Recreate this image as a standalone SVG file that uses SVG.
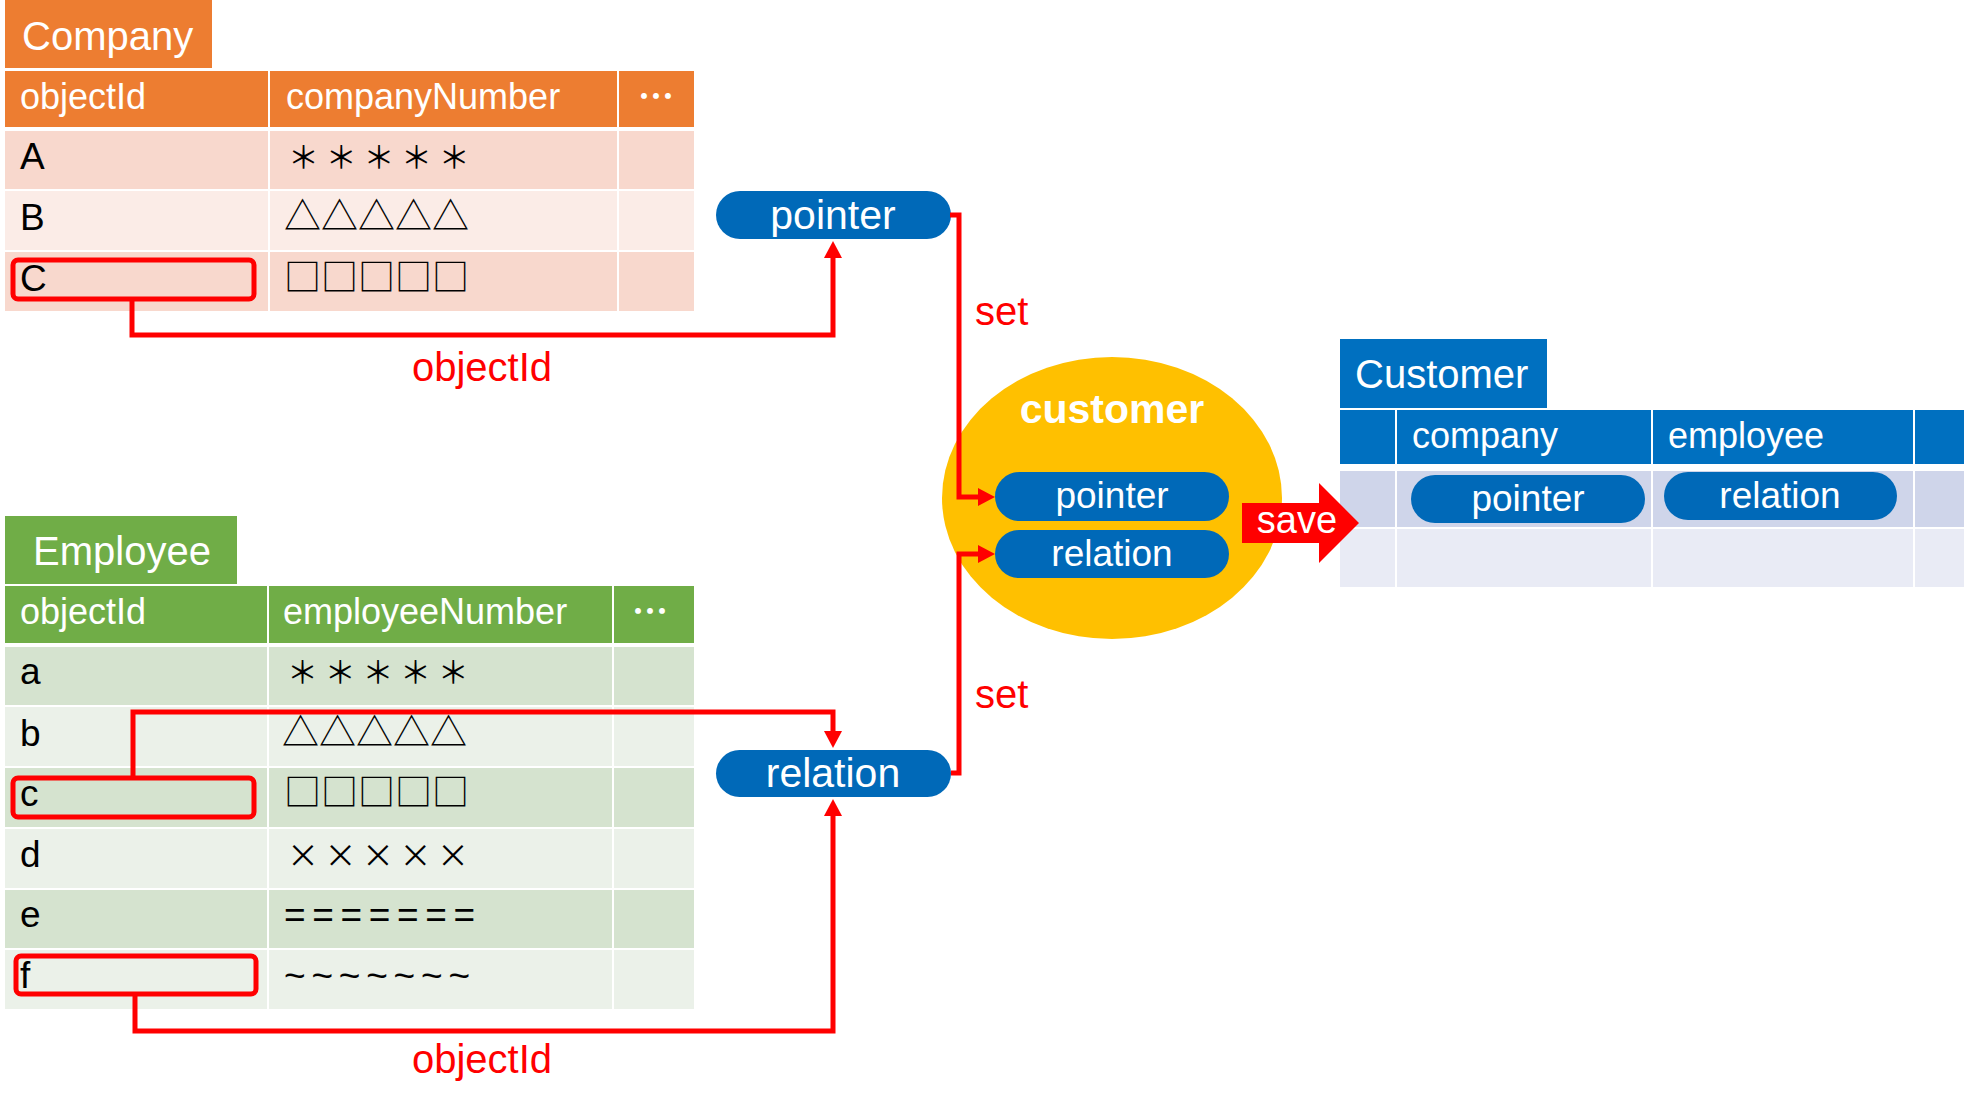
<svg xmlns="http://www.w3.org/2000/svg" width="1969" height="1104" viewBox="0 0 1969 1104">
<style>
text{font-family:"Liberation Sans","Noto Sans CJK JP",sans-serif}
.w{fill:#fff}
.k{fill:#000}
.red{fill:#f00}
.h36{font-size:36px}
.c37{font-size:37px}
.t40{font-size:40px}
.sym{font-family:"Noto Sans CJK JP",sans-serif;font-size:37px}
.ast{font-family:"Noto Sans CJK JP",sans-serif;font-size:31px;letter-spacing:6.7px}
.mul{font-family:"Noto Sans CJK JP",sans-serif;font-size:32px;letter-spacing:5.5px}
.dots{font-family:"Noto Sans CJK JP",sans-serif;font-size:36px;font-weight:bold;fill:#fff}
.pill{fill:#0069B8}
.mid{text-anchor:middle}
.box{fill:none;stroke:#f00;stroke-width:5}
.conn{fill:none;stroke:#f00;stroke-width:5;marker-end:url(#ah)}
.or{fill:#ED7D31}.or1{fill:#F8D8CD}.or2{fill:#FBECE7}
.gr{fill:#70AD47}.gr1{fill:#D5E3CF}.gr2{fill:#EBF1E9}
.bl{fill:#0070C0}.bl1{fill:#CFD5EA}.bl2{fill:#E9EBF5}
</style>
<defs>
<marker id="ah" markerUnits="userSpaceOnUse" markerWidth="18" markerHeight="18" viewBox="0 0 17 18" refX="7" refY="9" orient="auto"><path d="M0,0 L17,9 L0,18 z" fill="#f00"/></marker>
</defs>
<rect width="1969" height="1104" fill="#fff"/>

<g id="company-table">
<rect class="or" x="5" y="0" width="207" height="68"/>
<text class="w t40" x="22" y="50">Company</text>
<rect class="or" x="5" y="71" width="263" height="56"/>
<rect class="or" x="270" y="71" width="347" height="56"/>
<rect class="or" x="619" y="71" width="75" height="56"/>
<text class="w h36" x="20" y="109">objectId</text>
<text class="w h36" x="286" y="109">companyNumber</text>
<text class="dots mid" x="656" y="110">…</text>
<rect class="or1" x="5" y="131" width="263" height="58"/>
<rect class="or1" x="270" y="131" width="347" height="58"/>
<rect class="or1" x="619" y="131" width="75" height="58"/>
<rect class="or2" x="5" y="191" width="263" height="59"/>
<rect class="or2" x="270" y="191" width="347" height="59"/>
<rect class="or2" x="619" y="191" width="75" height="59"/>
<rect class="or1" x="5" y="252" width="263" height="59"/>
<rect class="or1" x="270" y="252" width="347" height="59"/>
<rect class="or1" x="619" y="252" width="75" height="59"/>
<text class="k c37" x="20" y="169">A</text>
<text class="k c37" x="20" y="230">B</text>
<text class="k c37" x="20" y="291">C</text>
<text class="k ast" x="288" y="168">＊＊＊＊＊</text>
<text class="k sym" x="284" y="230">△△△△△</text>
<text class="k sym" x="284" y="291">□□□□□</text>
<rect class="box" x="13" y="260" width="241" height="39" rx="5"/>
</g>

<g id="employee-table">
<rect class="gr" x="5" y="516" width="232" height="68"/>
<text class="w t40" x="33" y="565">Employee</text>
<rect class="gr" x="5" y="586" width="262" height="57"/>
<rect class="gr" x="269" y="586" width="343" height="57"/>
<rect class="gr" x="614" y="586" width="80" height="57"/>
<text class="w h36" x="20" y="624">objectId</text>
<text class="w h36" x="283" y="624">employeeNumber</text>
<text class="dots mid" x="650" y="625">…</text>
<rect class="gr1" x="5" y="647" width="262" height="58"/>
<rect class="gr1" x="269" y="647" width="343" height="58"/>
<rect class="gr1" x="614" y="647" width="80" height="58"/>
<rect class="gr2" x="5" y="707" width="262" height="59"/>
<rect class="gr2" x="269" y="707" width="343" height="59"/>
<rect class="gr2" x="614" y="707" width="80" height="59"/>
<rect class="gr1" x="5" y="768" width="262" height="59"/>
<rect class="gr1" x="269" y="768" width="343" height="59"/>
<rect class="gr1" x="614" y="768" width="80" height="59"/>
<rect class="gr2" x="5" y="829" width="262" height="59"/>
<rect class="gr2" x="269" y="829" width="343" height="59"/>
<rect class="gr2" x="614" y="829" width="80" height="59"/>
<rect class="gr1" x="5" y="890" width="262" height="58"/>
<rect class="gr1" x="269" y="890" width="343" height="58"/>
<rect class="gr1" x="614" y="890" width="80" height="58"/>
<rect class="gr2" x="5" y="950" width="262" height="59"/>
<rect class="gr2" x="269" y="950" width="343" height="59"/>
<rect class="gr2" x="614" y="950" width="80" height="59"/>
<text class="k c37" x="20" y="684">a</text>
<text class="k c37" x="20" y="746">b</text>
<text class="k c37" x="20" y="806">c</text>
<text class="k c37" x="20" y="867">d</text>
<text class="k c37" x="20" y="927">e</text>
<text class="k c37" x="20" y="988">f</text>
<text class="k ast" x="287" y="683">＊＊＊＊＊</text>
<text class="k sym" x="282" y="746">△△△△△</text>
<text class="k sym" x="284" y="806">□□□□□</text>
<text class="k mul" x="287" y="867">×××××</text>
<text class="k c37" x="284" y="927" textLength="191" lengthAdjust="spacing">=======</text>
<text class="k c37" x="284" y="988" textLength="186" lengthAdjust="spacing">~~~~~~~</text>
<rect class="box" x="13" y="778" width="241" height="39" rx="5"/>
<rect class="box" x="16" y="956" width="240" height="38" rx="5"/>
</g>

<g id="pointer-node">
<rect class="pill" x="716" y="191" width="235" height="48" rx="24"/>
<text class="w mid" x="833" y="229" font-size="41">pointer</text>
</g>

<g id="relation-node">
<rect class="pill" x="716" y="750" width="235" height="47" rx="23.5"/>
<text class="w mid" x="833" y="787" font-size="41">relation</text>
</g>

<g id="customer-object">
<ellipse cx="1112" cy="498" rx="170" ry="141" fill="#FFC000"/>
<text class="w mid" x="1112" y="423" font-size="41" font-weight="bold">customer</text>
<rect class="pill" x="995" y="472" width="234" height="49" rx="24.5"/>
<text class="w mid" x="1112" y="508" font-size="37">pointer</text>
<rect class="pill" x="995" y="530" width="234" height="48" rx="24"/>
<text class="w mid" x="1112" y="566" font-size="37">relation</text>
</g>

<g id="customer-table">
<rect class="bl" x="1340" y="339" width="207" height="69"/>
<text class="w t40" x="1355" y="388">Customer</text>
<rect class="bl" x="1340" y="410" width="55" height="54"/>
<rect class="bl" x="1397" y="410" width="254" height="54"/>
<rect class="bl" x="1653" y="410" width="260" height="54"/>
<rect class="bl" x="1915" y="410" width="49" height="54"/>
<text class="w h36" x="1412" y="448">company</text>
<text class="w h36" x="1668" y="448">employee</text>
<rect class="bl1" x="1340" y="471" width="55" height="56"/>
<rect class="bl1" x="1397" y="471" width="254" height="56"/>
<rect class="bl1" x="1653" y="471" width="260" height="56"/>
<rect class="bl1" x="1915" y="471" width="49" height="56"/>
<rect class="bl2" x="1340" y="529" width="55" height="58"/>
<rect class="bl2" x="1397" y="529" width="254" height="58"/>
<rect class="bl2" x="1653" y="529" width="260" height="58"/>
<rect class="bl2" x="1915" y="529" width="49" height="58"/>
<rect class="pill" x="1411" y="475" width="234" height="48" rx="24"/>
<text class="w mid" x="1528" y="511" font-size="37">pointer</text>
<rect class="pill" x="1664" y="472" width="233" height="48" rx="24"/>
<text class="w mid" x="1780" y="508" font-size="37">relation</text>
</g>

<g id="save-arrow">
<polygon points="1242,503 1319,503 1319,483 1359,523 1319,563 1319,543 1242,543" fill="#f00"/>
<text class="w mid" x="1297" y="533" font-size="38">save</text>
</g>

<g id="connectors">
<path class="conn" d="M132,300 V335 H833 V251"/>
<path class="conn" d="M950,215 H959 V497 H985"/>
<path class="conn" d="M951,773 H959 V554 H985"/>
<path class="conn" d="M133,778 V712 H833 V738"/>
<path class="conn" d="M135,995 V1031 H833 V809"/>
</g>

<g id="labels">
<text class="red mid" x="482" y="381" font-size="40">objectId</text>
<text class="red mid" x="482" y="1073" font-size="40">objectId</text>
<text class="red" x="975" y="325" font-size="40">set</text>
<text class="red" x="975" y="708" font-size="40">set</text>
</g>
</svg>
